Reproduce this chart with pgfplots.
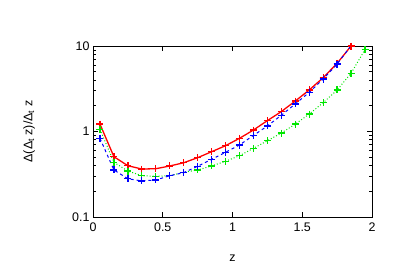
\documentclass[border=0pt]{standalone}
\usepackage{pgfplots}
\pgfplotsset{compat=1.18}
\usepackage{fontspec}
\setmainfont{Liberation Sans}
\definecolor{gred}{RGB}{255,0,0}
\definecolor{ggreen}{RGB}{0,230,0}
\definecolor{gblue}{RGB}{0,0,255}
\begin{document}
\begin{tikzpicture}
\useasboundingbox (0,0) rectangle (400bp,280bp);
\begin{axis}[
  at={(93bp,63bp)}, anchor=south west,
  scale only axis, width=279bp, height=171bp,
  xmin=0, xmax=2, ymin=0.1, ymax=10,
  ymode=log,
  xtick={0,0.5,1,1.5,2},
  ytick={0.1,1,10},
  yticklabels={0.1,1,10},
  log ticks with fixed point,
  tick align=inside,
  major tick length=5bp, minor tick length=3bp,
  /pgf/number format/assume math mode=true,
  ticklabel style={font=\fontsize{12.5}{14}\selectfont},
  xticklabel style={yshift=-2bp},
  xlabel={z},
  ylabel={Δ(Δ\textsubscript{t} z)/Δ\textsubscript{t} z},
  every axis x label/.style={at={(axis description cs:0.5,-0.24)}, anchor=center, font=\fontsize{12.5}{14}\selectfont},
  every axis y label/.style={at={(axis description cs:-0.229,0.5)}, anchor=center, rotate=90, font=\fontsize{12.5}{14}\selectfont},
  axis line style={line width=0.8pt},
  every tick/.style={line width=0.8pt, black},
  mark size=3.5bp,
  clip=true,
]
\addplot[color=gred, line width=1.3pt, mark=+, mark options={solid, color=gred, line width=1.3pt}] coordinates {
(0.05,1.22)(0.15,0.507)(0.25,0.398)(0.35,0.364)(0.45,0.367)(0.55,0.395)(0.65,0.431)(0.75,0.494)(0.85,0.58)(0.95,0.682)(1.05,0.832)(1.15,1.04)(1.25,1.34)(1.35,1.71)(1.45,2.27)(1.55,3.06)(1.65,4.26)(1.75,6.27)(1.85,10.0)};
\addplot[color=ggreen, line width=1pt, dotted, mark=+, mark options={solid, color=ggreen, line width=1.3pt}] coordinates {
(0.05,1.06)(0.15,0.436)(0.25,0.345)(0.35,0.304)(0.45,0.299)(0.55,0.304)(0.65,0.333)(0.75,0.355)(0.85,0.395)(0.95,0.448)(1.05,0.521)(1.15,0.636)(1.25,0.78)(1.35,0.96)(1.45,1.22)(1.55,1.60)(1.65,2.17)(1.75,3.06)(1.85,4.8)(1.95,9.1)};
\addplot[color=gblue, line width=1pt, dashed, mark=+, mark options={solid, color=gblue, line width=1.3pt}] coordinates {
(0.05,0.83)(0.15,0.355)(0.25,0.28)(0.35,0.264)(0.45,0.271)(0.55,0.304)(0.65,0.33)(0.75,0.392)(0.85,0.473)(0.95,0.571)(1.05,0.695)(1.15,0.90)(1.25,1.16)(1.35,1.55)(1.45,2.10)(1.55,2.87)(1.65,4.11)(1.75,6.15)(1.85,10.1)};
\end{axis}
\end{tikzpicture}
\end{document}
